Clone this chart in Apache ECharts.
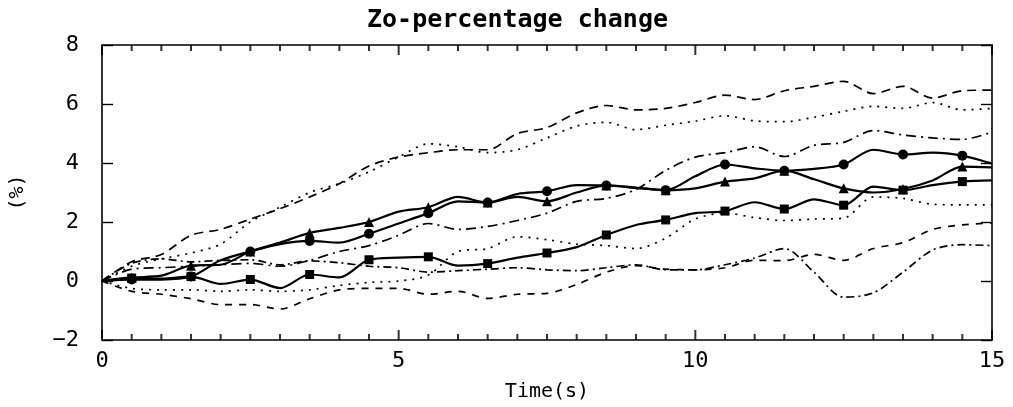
<!DOCTYPE html>
<html><head><meta charset="utf-8">
<script src="https://cdn.jsdelivr.net/npm/echarts@6/dist/echarts.min.js"></script>
<style>html,body{margin:0;padding:0;background:#fff}#c{width:1013px;height:407px}</style>
</head><body><div id="c"></div>
<script>
const times = [0,0.5,1,1.5,2,2.5,3,3.5,4,4.5,5,5.5,6,6.5,7,7.5,8,8.5,9,9.5,10,10.5,11,11.5,12,12.5,13,13.5,14,14.5,15];
const xTicks = [0,5,10,15];
const yTicks = [-2,0,2,4,6,8];

// solid series with markers
const circleVals   = [0,0.05,0.05,0.15,0.7,1.0,1.25,1.36,1.3,1.6,1.95,2.3,2.7,2.66,2.95,3.04,3.25,3.24,3.17,3.08,3.55,3.95,3.82,3.74,3.8,3.95,4.45,4.29,4.35,4.25,3.98];
const triangleVals = [0,0.12,0.18,0.52,0.55,1.0,1.3,1.63,1.8,2.0,2.35,2.5,2.85,2.66,2.85,2.7,3.0,3.24,3.15,3.08,3.14,3.37,3.48,3.74,3.45,3.14,3.0,3.12,3.41,3.88,3.85];
const squareVals   = [0,0.1,0.08,0.15,-0.1,0.05,-0.24,0.22,0.12,0.72,0.79,0.82,0.52,0.59,0.79,0.95,1.15,1.56,1.9,2.07,2.3,2.37,2.67,2.44,2.77,2.57,3.2,3.08,3.25,3.37,3.41];

// broken-line series
const dash1Vals    = [0,0.65,0.9,1.55,1.75,2.1,2.45,2.85,3.3,3.9,4.2,4.35,4.45,4.45,5.0,5.2,5.7,5.95,5.8,5.85,6.05,6.3,6.15,6.45,6.6,6.77,6.35,6.6,6.2,6.45,6.47];
const dot1Vals     = [0,0.5,0.75,0.95,1.25,2.0,2.5,3.0,3.3,3.7,4.2,4.65,4.55,4.35,4.45,4.85,5.25,5.38,5.13,5.28,5.42,5.6,5.43,5.4,5.55,5.75,5.92,5.85,6.05,5.8,5.85];
const dashDot1Vals = [0,0.4,0.45,0.5,0.55,0.6,0.5,0.7,1.0,1.2,1.55,1.95,1.75,1.85,2.05,2.3,2.7,2.8,3.1,3.75,4.2,4.35,4.55,4.22,4.6,4.7,5.1,4.95,4.85,4.8,5.05];
const dot2Vals     = [0,-0.25,-0.3,-0.3,-0.35,-0.3,-0.35,-0.3,-0.15,-0.05,0.0,0.2,1.0,1.1,1.5,1.4,1.25,1.2,1.1,1.45,2.1,2.3,2.15,2.05,2.1,2.13,2.85,2.8,2.6,2.58,2.58];
const dash2Vals    = [0,-0.35,-0.45,-0.6,-0.8,-0.8,-0.95,-0.6,-0.3,-0.25,-0.25,-0.45,-0.35,-0.59,-0.45,-0.42,-0.12,0.3,0.52,0.4,0.38,0.45,0.7,0.69,0.9,0.7,1.1,1.3,1.75,1.9,1.97];
const dashDot2Vals = [0,0.6,0.75,0.65,0.7,0.72,0.55,0.68,0.62,0.5,0.45,0.3,0.35,0.4,0.45,0.38,0.35,0.45,0.55,0.38,0.38,0.55,0.78,1.1,0.3,-0.55,-0.4,0.3,1.05,1.23,1.2];

const FONT = 'DejaVu Sans Mono';
const Y_MIN = -2, Y_MAX = 8;

function marked(vals, sym) {
  return vals.map((v, i) => ({ value: [times[i], v], symbol: (i % 2 === 1) ? sym : 'none' }));
}
function plain(vals) { return vals.map((v, i) => [times[i], v]); }

function solid(name, vals, sym, size) {
  return { name, type: 'line', data: marked(vals, sym), smooth: 0.3, symbolSize: size,
    showAllSymbol: true, itemStyle: { color: '#000' },
    lineStyle: { color: '#000', width: 2.2 }, z: 5, animation: false };
}
function broken(name, vals, dash) {
  return { name, type: 'line', data: plain(vals), smooth: 0.3, showSymbol: false,
    lineStyle: { color: '#000', width: 1.7, type: dash }, animation: false };
}

// inward tick marks every 0.5 s on the bottom and top frame lines (scatter marks on the axis scale)
function tickMarks(yEdge, dir) {
  return { type: 'scatter', silent: true, clip: false, z: 10, animation: false,
    itemStyle: { color: '#000' }, symbol: 'rect',
    data: times.map(t => {
      const len = (t % 5 === 0) ? 10 : 6;
      return { value: [t, yEdge], symbolSize: [2, len], symbolOffset: [0, dir * len / 2] };
    }) };
}

function xAxisDef(pos, extra) {
  return Object.assign({
    type: 'value', min: 0, max: 15, interval: 5, position: pos,
    axisLine: { show: true, onZero: false, lineStyle: { color: '#000', width: 1.6 } },
    axisTick: { show: false },
    splitLine: { show: false }
  }, extra);
}
function yAxisDef(pos, extra) {
  return Object.assign({
    type: 'value', min: Y_MIN, max: Y_MAX, interval: 2, position: pos,
    axisLine: { show: true, onZero: false, lineStyle: { color: '#000', width: 1.6 } },
    axisTick: { show: true, inside: true, length: 11, lineStyle: { color: '#000', width: 1.4 } },
    splitLine: { show: false }
  }, extra);
}

const chart = echarts.init(document.getElementById('c'), null, { renderer: 'canvas' });
chart.setOption({
  backgroundColor: '#fff',
  animation: false,
  title: { text: 'Zo-percentage change', left: 362, top: 3,
    textStyle: { fontFamily: FONT, fontSize: 25, fontWeight: 'bold', color: '#000' } },
  grid: { left: 98, right: 21, top: 45, bottom: 65 },
  xAxis: [
    xAxisDef('bottom', {
      name: 'Time(s)', nameLocation: 'middle', nameGap: 42,
      nameTextStyle: { fontFamily: FONT, fontSize: 20, color: '#000' },
      axisLabel: { fontFamily: FONT, fontSize: 22, color: '#000', margin: 10,
        formatter: v => xTicks.includes(v) ? String(v) : '' } }),
    xAxisDef('top', { axisLabel: { show: false } })
  ],
  yAxis: [
    yAxisDef('left', {
      name: '(%)', nameLocation: 'middle', nameGap: 74, nameRotate: 90,
      nameTextStyle: { fontFamily: FONT, fontSize: 20, color: '#000' },
      axisLabel: { fontFamily: FONT, fontSize: 22, color: '#000', margin: 23,
        formatter: v => yTicks.includes(v) ? String(v).replace('-', '\u2212') : '' } }),
    yAxisDef('right', { axisLabel: { show: false } })
  ],
  series: [
    broken('dash1', dash1Vals, [9, 6]),
    broken('dot1', dot1Vals, [2, 6]),
    broken('dashDot1', dashDot1Vals, [10, 5, 2, 5]),
    broken('dot2', dot2Vals, [2, 6]),
    broken('dash2', dash2Vals, [7, 7]),
    broken('dashDot2', dashDot2Vals, [8, 4, 2, 4]),
    solid('circle', circleVals, 'circle', 10),
    solid('triangle', triangleVals, 'triangle', 10),
    solid('square', squareVals, 'rect', 9),
    tickMarks(Y_MIN, -1),
    tickMarks(Y_MAX, 1)
  ]
});
</script></body></html>
